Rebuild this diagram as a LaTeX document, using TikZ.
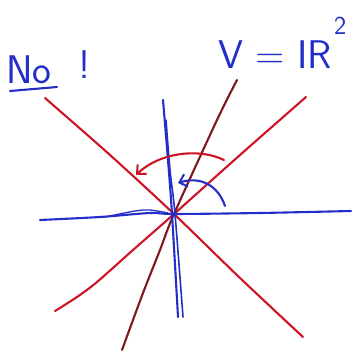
\documentclass[tikz,border=0pt]{standalone}
\usetikzlibrary{arrows.meta}
\definecolor{penblue}{RGB}{35,45,200}
\definecolor{penred}{RGB}{205,20,35}
\definecolor{pendark}{RGB}{125,25,30}
\tikzset{
  pen/.style={line width=2.1pt, line cap=round, line join=round},
  bluepen/.style={pen, draw=penblue},
  redpen/.style={pen, draw=penred},
  darkpen/.style={pen, draw=pendark},
  handtext/.style={font=\sffamily\fontsize{40}{40}\selectfont, text=penblue, inner sep=0pt},
  barb/.style={-{Straight Barb[length=7pt,width=13pt,line width=2pt]}}
}
\begin{document}
\begin{tikzpicture}[x=1pt,y=-1pt]
\useasboundingbox (0,0) rectangle (359,356);
\coordinate (O) at (174,214);
% red lines
\coordinate (rA) at (45,98);
\coordinate (rB) at (303,337);
\coordinate (rC) at (306,97);
\coordinate (rD) at (55,311);
\draw[redpen] plot[smooth] coordinates {(rA) (110,155) (O) (240,278) (rB)};
\draw[redpen] plot[smooth] coordinates {(rC) (240,155) (O) (133,250) (97,282) (77,297) (rD)};
% dark red line
\coordinate (dA) at (237,80);
\coordinate (dB) at (122,350);
\draw[darkpen] plot[smooth] coordinates {(dA) (217,120) (O) (160,250) (143,293) (dB)};
% blue horizontal
\coordinate (hA) at (40,220);
\coordinate (hB) at (351,211);
\draw[bluepen] plot[smooth] coordinates {(hA) (100,217) (150,213) (O) (260,213) (hB)};
\draw[bluepen, line width=1.3pt] plot[smooth] coordinates {(105,217) (135,211) (150,210) (168,213)};
% blue vertical (double stroke)
\coordinate (vA) at (163,100);
\coordinate (vB) at (178,317);
\coordinate (vC) at (166,120);
\coordinate (vD) at (183,317);
\draw[bluepen] plot[smooth] coordinates {(vA) (168,160) (172,214) (vB)};
\draw[bluepen, line width=1.6pt] plot[smooth] coordinates {(vC) (170,170) (175,214) (vD)};
% curved arrows
\coordinate (raS) at (224,160);
\coordinate (raE) at (136,175);
\draw[redpen, barb] (raS) .. controls (200,148) and (160,152) .. (raE);
\coordinate (baS) at (225,206);
\coordinate (baE) at (178,183);
\draw[bluepen, barb] (baS) .. controls (218,185) and (200,176) .. (baE);
% text
\node[handtext] (no) at (29,70) {No};
\node[handtext] (excl) at (84,65) {!};
\coordinate (uA) at (10,91);
\coordinate (uB) at (57,87);
\draw[bluepen] (uA) -- (uB);
\node[handtext, anchor=base west] (eq) at (218,68) {V = IR\kern2pt\raisebox{34pt}{\fontsize{26}{26}\selectfont 2}};
\end{tikzpicture}
\end{document}
